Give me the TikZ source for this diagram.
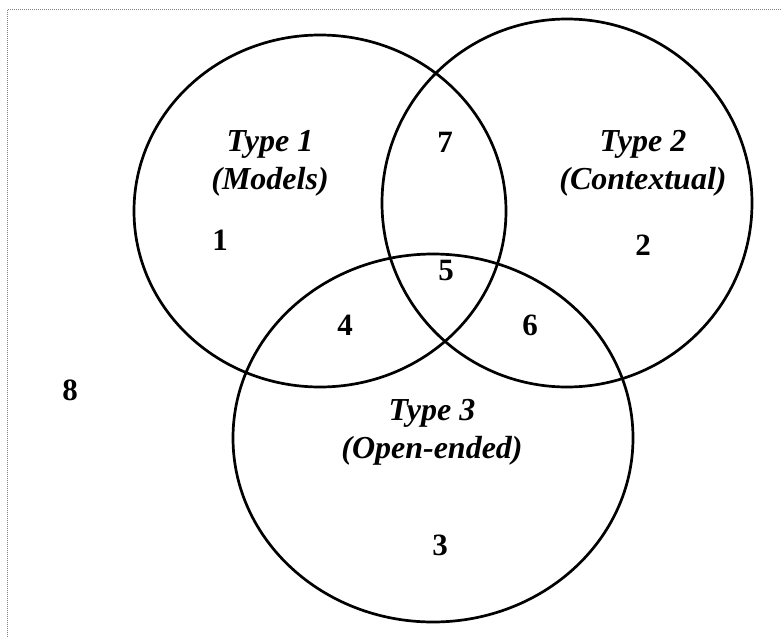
\documentclass[tikz,border=0pt]{standalone}
\usepackage{fontspec}
\setmainfont{Liberation Serif}
\tikzset{
 lbl/.style={font=\fontsize{32}{38}\selectfont\bfseries\itshape,align=center},
 num/.style={font=\fontsize{31}{36}\selectfont\bfseries},
 ring/.style={line width=2.7pt}
}
\begin{document}
\begin{tikzpicture}[x=1pt,y=-1pt]
 \useasboundingbox (0,0) rectangle (781,637);
 \draw[gray,line width=0.8pt,dash pattern=on 1pt off 1pt] (7.5,637)--(7.5,9)--(781,9); %枠
 \draw[ring] (320,211) circle[x radius=186,y radius=176]; %Type 1
 \draw[ring] (567,203) circle[x radius=185,y radius=184]; %Type 2
 \draw[ring] (433,438) circle[x radius=200,y radius=184]; %Type 3
 \node[lbl] (t1) at (270,163) {Type 1\\(Models)};
 \node[lbl] (t2) at (643,163) {Type 2\\(Contextual)};
 \node[lbl] (t3) at (432,432) {Type 3\\(Open-ended)};
 \node[num] (n1) at (220,240) {1};
 \node[num] (n2) at (643,245) {2};
 \node[num] (n3) at (440,545) {3};
 \node[num] (n4) at (345,325) {4};
 \node[num] (n5) at (446,270) {5};
 \node[num] (n6) at (530,325) {6};
 \node[num] (n7) at (445,142) {7};
 \node[num] (n8) at (70,390) {8};
\end{tikzpicture}
\end{document}
